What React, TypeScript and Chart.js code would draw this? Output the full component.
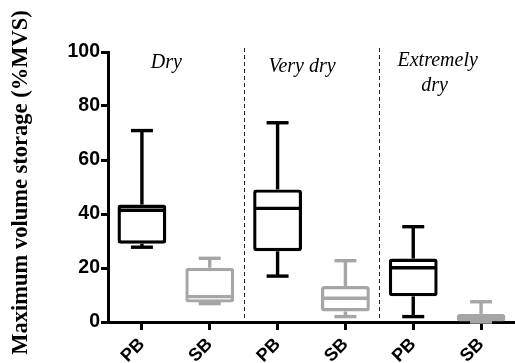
import React, { useEffect, useRef } from "react";
import { Chart, registerables } from "chart.js";

Chart.register(...registerables);

const categories = ["PB", "SB", "PB", "SB", "PB", "SB"];
const groupLabels = [["Dry"], ["Very dry"], ["Extremely", "dry"]];
const yTitle = "Maximum volume storage (%MVS)";
const whiskerMin = [27.7, 6.8, 17.0, 2.0, 2.0, 0.0];
const quartile1 = [29.0, 7.2, 26.2, 3.9, 9.5, 0.2];
const medians = [41.4, 9.4, 42.1, 8.8, 20.1, 1.4];
const quartile3 = [43.5, 20.1, 49.1, 13.3, 23.5, 3.0];
const whiskerMax = [70.9, 23.6, 73.8, 22.7, 35.3, 7.5];
const yTicks = [0, 20, 40, 60, 80, 100];

const BLACK = "#000000";
const GRAY = "#a6a6a6";
const boxColors = categories.map((c) => (c === "PB" ? BLACK : GRAY));
const LW = 3.4;

const boxPlugin = {
  id: "boxExtras",
  beforeDatasetsDraw(chart: any) {
    const { ctx, scales, chartArea } = chart;
    const x = scales.x;
    const y = scales.y;
    ctx.save();
    // dividers between groups
    ctx.strokeStyle = "#222";
    ctx.lineWidth = 1;
    ctx.setLineDash([4, 3]);
    [1, 3].forEach((i) => {
      const px = Math.round((x.getPixelForValue(i) + x.getPixelForValue(i + 1)) / 2) + 0.5;
      ctx.beginPath();
      ctx.moveTo(px, chartArea.top - 4);
      ctx.lineTo(px, chartArea.bottom - 2);
      ctx.stroke();
    });
    ctx.setLineDash([]);
    // whiskers
    ctx.lineWidth = LW;
    ctx.lineCap = "butt";
    const capHalf = 11;
    categories.forEach((_, i) => {
      const px = x.getPixelForValue(i);
      ctx.strokeStyle = boxColors[i];
      const segs = [
        [quartile3[i], whiskerMax[i]],
        [quartile1[i], whiskerMin[i]],
      ];
      segs.forEach(([from, to]) => {
        const y0 = y.getPixelForValue(from);
        const y1 = y.getPixelForValue(to);
        ctx.beginPath();
        ctx.moveTo(px, y0);
        ctx.lineTo(px, y1);
        ctx.stroke();
        ctx.beginPath();
        ctx.moveTo(px - capHalf, y1);
        ctx.lineTo(px + capHalf, y1);
        ctx.stroke();
      });
    });
    // group labels
    ctx.fillStyle = BLACK;
    ctx.font = "italic 20px 'Liberation Serif'";
    ctx.textAlign = "center";
    ctx.textBaseline = "alphabetic";
    const cat = x.getPixelForValue(1) - x.getPixelForValue(0);
    const baselines = [68, 72, 66];
    groupLabels.forEach((lines, g) => {
      const px = x.getPixelForValue(g * 2) + cat * 0.36;
      lines.forEach((t, k) => {
        ctx.fillText(t, px - (k > 0 ? 3 : 0), baselines[g] + k * 25);
      });
    });
    ctx.restore();
  },
  afterDatasetsDraw(chart: any) {
    const { ctx, scales } = chart;
    const y = scales.y;
    const meta = chart.getDatasetMeta(0);
    ctx.save();
    ctx.lineWidth = LW;
    meta.data.forEach((bar: any, i: number) => {
      const w = bar.width;
      const py = y.getPixelForValue(medians[i]);
      ctx.strokeStyle = boxColors[i];
      ctx.beginPath();
      ctx.moveTo(bar.x - w / 2 + 1, py);
      ctx.lineTo(bar.x + w / 2 - 1, py);
      ctx.stroke();
    });
    ctx.restore();
  },
  afterDraw(chart: any) {
    const { ctx, chartArea } = chart;
    ctx.save();
    ctx.translate(21, (chartArea.top + chartArea.bottom) / 2 - 4.5);
    ctx.rotate(-Math.PI / 2);
    ctx.fillStyle = BLACK;
    ctx.font = "bold 22.5px 'Liberation Serif'";
    ctx.textAlign = "center";
    ctx.textBaseline = "middle";
    ctx.fillText(yTitle, 0, 0);
    ctx.restore();
  },
};

export default function App() {
  const ref = useRef<HTMLCanvasElement>(null);
  useEffect(() => {
    if (!ref.current) return;
    const chart = new Chart(ref.current, {
      type: "bar",
      data: {
        labels: categories,
        datasets: [
          {
            data: categories.map((_, i) => [quartile1[i], quartile3[i]]),
            backgroundColor: "#ffffff",
            borderColor: boxColors,
            borderWidth: LW,
            borderSkipped: false,
            borderRadius: 3,
            barPercentage: 0.72,
            categoryPercentage: 1,
          } as any,
        ],
      },
      options: {
        responsive: false,
        animation: false,
        layout: { padding: { top: 52, right: 0, left: 0, bottom: 0 } },
        plugins: { legend: { display: false }, tooltip: { enabled: false } },
        scales: {
          x: {
            offset: true,
            grid: {
              display: true,
              drawOnChartArea: false,
              drawTicks: true,
              tickLength: 8,
              tickWidth: 3,
              color: BLACK,
              offset: false,
            },
            border: { display: true, width: 3, color: BLACK },
            ticks: {
              color: BLACK,
              font: { family: "'Liberation Sans'", size: 18, weight: "bold" },
              maxRotation: 45,
              minRotation: 45,
              padding: 4,
            },
            afterFit: (s: any) => {
              s.height = 41;
            },
          },
          y: {
            min: 0,
            max: 100,
            afterBuildTicks: (s: any) => {
              s.ticks = yTicks.map((v) => ({ value: v }));
            },
            grid: {
              display: true,
              drawOnChartArea: false,
              drawTicks: true,
              tickLength: 7,
              tickWidth: 3,
              color: BLACK,
            },
            border: { display: true, width: 3, color: BLACK },
            ticks: {
              color: BLACK,
              font: { family: "'Liberation Sans'", size: 19.5, weight: "bold" },
              padding: 1,
            },
            title: { display: false },
            afterFit: (s: any) => {
              s.width = 108;
            },
          },
        },
      },
      plugins: [boxPlugin],
    });
    return () => chart.destroy();
  }, []);
  return (
    <div style={{ position: "absolute", left: 0, top: 0, width: 515, height: 363, background: "#fff" }}>
      <canvas ref={ref} width={515} height={363} style={{ display: "block" }} />
    </div>
  );
}
